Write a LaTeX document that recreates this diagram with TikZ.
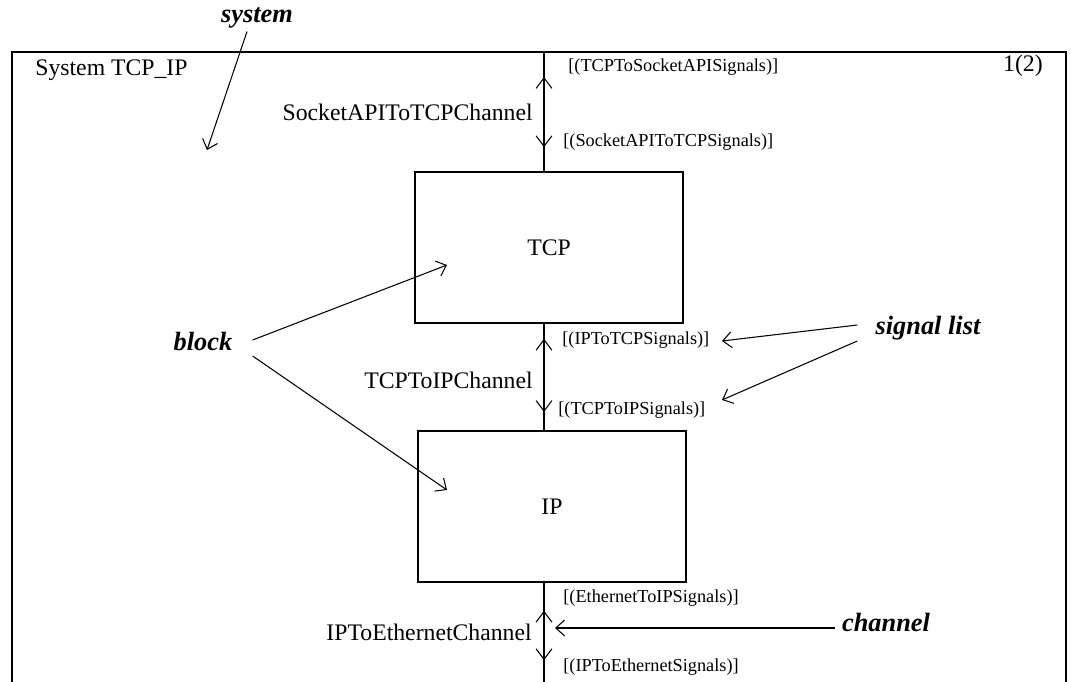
\documentclass[tikz,border=0pt]{standalone}
\usepackage{fontspec}
\setmainfont{Liberation Serif}
\usetikzlibrary{arrows.meta,decorations.markings,calc}

\newcommand\chfont{\fontsize{13.5}{16}\selectfont}
\newcommand\sigfont{\fontsize{10.4}{12}\selectfont}
\newcommand\tagfont{\fontsize{15}{18}\selectfont\bfseries\itshape}

\tikzset{
  sigtip/.tip={Straight Barb[length=6pt,width=9pt,line width=0.6pt]},
  blk/.style={draw,line width=1.1pt,minimum width=5.36cm,minimum height=3.02cm,font=\chfont},
  chan/.style 2 args={line width=1pt,postaction={decorate,decoration={markings,
      mark=at position #1 with {\arrowreversed{sigtip}},
      mark=at position #2 with {\arrow{sigtip}}}}},
  chlbl/.style={inner sep=0pt,font=\chfont},
  siglbl/.style={inner sep=0pt,anchor=west,font=\sigfont},
  tag/.style={inner sep=0pt,font=\tagfont},
  note/.style={line width=0.6pt,-{Straight Barb[length=5pt,width=9pt,line width=0.6pt]}}
}

\begin{document}
\begin{tikzpicture}[x=0.02cm,y=-0.02cm]
\useasboundingbox (0,0) rectangle (1071,682);

% system frame, open at the bottom
\draw[line width=1.1pt] (12,682) -- (12,52) -- (1066,52) -- (1066,682);
\node[chlbl,anchor=west] (sysname) at (35,70) {System TCP\_IP};
\node[chlbl,anchor=east] (page) at (1043,66) {1(2)};

% blocks
\node[blk] (tcp) at (549,247.5) {TCP};
\node[blk] (ip) at (552,506.5) {IP};

% channels
\coordinate (ch1top) at (544,52);
\coordinate (ch3bot) at (544,682);
\draw[chan={0.21}{0.8}] (ch1top) -- (ch1top |- tcp.north);
\draw[chan={0.14}{0.83}] (ch1top |- tcp.south) -- (ch1top |- ip.north);
\draw[chan={0.28}{0.78}] (ch1top |- ip.south) -- (ch3bot);

\node[chlbl,anchor=east] (ch1) at (533,112) {SocketAPIToTCPChannel};
\node[chlbl,anchor=east] (ch2) at (533,380) {TCPToIPChannel};
\node[chlbl,anchor=east] (ch3) at (532,632) {IPToEthernetChannel};

% signal lists
\node[siglbl] (s1up) at (568,67) {[(TCPToSocketAPISignals)]};
\node[siglbl] (s1dn) at (563,142) {[(SocketAPIToTCPSignals)]};
\node[siglbl] (s2up) at (562,340) {[(IPToTCPSignals)]};
\node[siglbl] (s2dn) at (558,410) {[(TCPToIPSignals)]};
\node[siglbl] (s3up) at (563,598) {[(EthernetToIPSignals)]};
\node[siglbl] (s3dn) at (563,667) {[(IPToEthernetSignals)]};

% annotations
\node[tag] (systag) at (257,18) {system};
\node[tag] (blocktag) at (203,342) {block};
\node[tag] (sigtag) at (928,328) {signal list};
\node[tag] (chtag) at (886,622) {channel};

\coordinate (systip) at (207,150);
\coordinate (tcpin) at (447,265);
\coordinate (ipin) at (447,490);
\coordinate (s2tip) at (722,341);
\coordinate (s3tip) at (722,400);
\coordinate (chtip) at (555,628);

\draw[note] ($(systag.south)+(-10,3)$) -- (systip);
\draw[note] ($(blocktag.east)+(20,-2)$) -- (tcpin);
\draw[note] ($(blocktag.east)+(20,14)$) -- (ipin);
\draw[note] ($(sigtag.west)+(-18,-3)$) -- (s2tip);
\draw[note] ($(sigtag.west)+(-18,13)$) -- (s3tip);
\draw[note,line width=1pt] ($(chtag.west)+(-7,6)$) -- (chtip);
\end{tikzpicture}
\end{document}
